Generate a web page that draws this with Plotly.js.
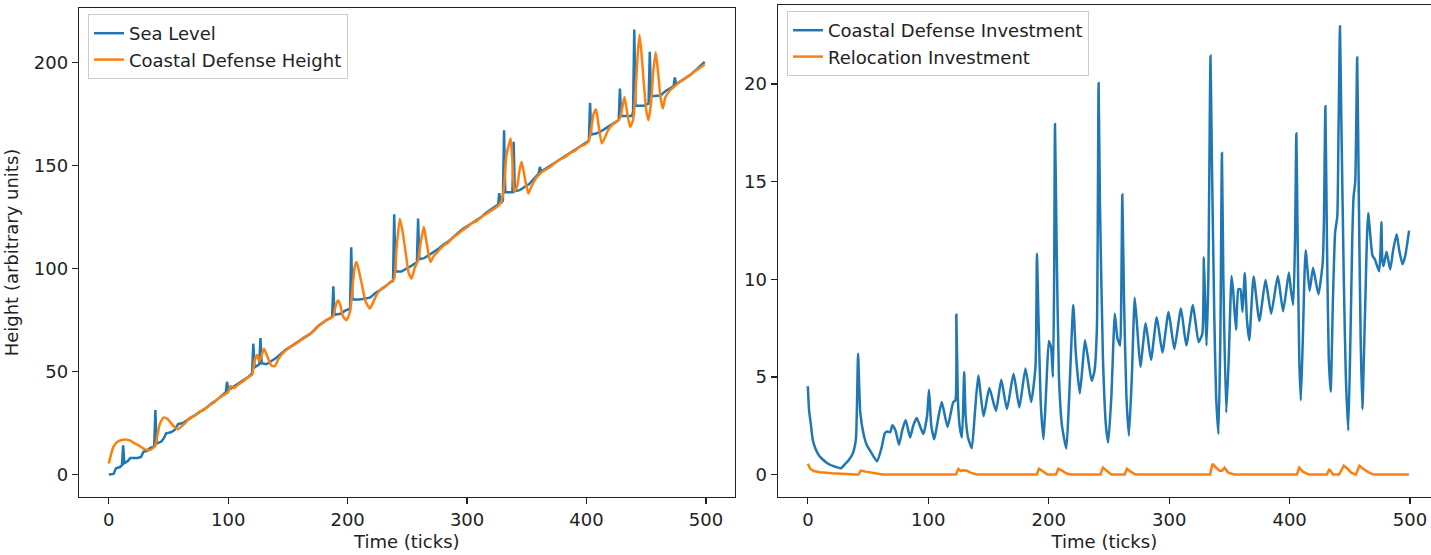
<!DOCTYPE html>
<html>
<head>
<meta charset="utf-8">
<script src="https://cdn.plot.ly/plotly-3.0.1.min.js"></script>
<style>html,body{margin:0;padding:0;background:#fff}#chart{width:1431px;height:555px}</style>
</head>
<body>
<div id="chart"></div>
<script>
// ---- Left panel: heights ----
var seaLevelT = [0,4,6,9,11,12,13,16,18,24,27,29,32,35,38,39,40,44,46,48,52,55,58,62,66,70,74,78,82,86,90,94,98,99,100,104,108,112,116,120,121,122,126,127,128,132,136,140,144,148,152,156,160,164,168,172,176,180,184,187,188,189,194,198,202,203,204,210,216,219,223,227,231,235,238,239,240,245,250,254,258,259,260,264,268,272,276,280,284,288,292,296,300,304,308,312,316,320,324,326,327,328,330,331,332,338,339,340,344,348,352,356,360,361,362,366,370,374,378,382,386,390,394,398,402,403,404,408,412,416,420,424,427,428,429,438,439,440,441,448,452,453,454,462,466,470,473,474,475,479,483,487,491,495,499];
var seaLevelV = [0,0.3,3,3.5,4.5,14.1,5.5,6.5,8,8,8.5,11,11.5,13,13.5,31.3,15,16,17.5,20,20.5,21.5,24.5,25,26.5,28,29.5,31,32.5,34.5,36,38,40,45,41,42.5,44,45.5,47,49,63.5,52,53.5,66.2,54,53.5,55,56.5,58.5,60.5,62,63.5,65,66.5,68,70,72.5,74,75.5,76.5,91.3,77.5,78,79.5,80.5,110.3,85,85,85.5,86,88,89.5,91,93,94,126.3,98.5,98.5,100,101.5,103,124.3,104.5,105,106.5,108,109.5,111.5,113,115,117,119,120.5,122,123.5,125,127,128.5,130,131,136.6,131.5,133,167.1,137,137,161.5,137.5,138,139.5,141,143.5,146,149.3,147,148.5,150,151.5,153,154.5,156,157.5,159,160.5,162,180.4,165,165.5,166.5,168,169.5,171,172,187.4,174,174,176,216,179,179,180,205.2,183.6,184,186,187.5,188.5,192.7,189.5,191,192.5,194,196,198,200.3];

var defenseT = [0,2,4,7,10,14,18,22,26,30,34,37,39,41,43,46,49,52,55,58,61,64,68,72,76,80,84,88,92,96,100,102,105,108,112,116,120,122,124,126,128,130,133,136,139,142,146,150,154,158,162,166,170,174,178,182,186,188,190,192,194,196,199,202,204,206,207.5,209,212,215,218.6,221,224,228,232,236,239,241,243.7,246,249,251,253.5,256,259,261,263.8,266,268,269.4,272,276,280,284,288,292,296,300,304,308,312,316,320,324,327,329,331,333,336.5,338,339.5,342,344,345.7,348,351.3,354,358,362,366,370,374,378,382,386,390,394,398,402,404,406,408,410,412.8,415,418,422,426,428,430,431.8,434,436.5,439,441,443,444.4,446,448,450,451.9,454,456,458,460,462,463.9,466,470,474,478,482,486,490,494,499];
var defenseV = [5.3,10,13.5,15.8,16.6,17,16.4,15,13.8,12.3,11.8,12.8,14,20,25,27.7,27,25,23,22,23.5,25,27.5,28.5,30.5,31.5,33.5,35,37,38.5,40,43,42,43.5,45,47,48.5,55,58,55,58,61,57,53,52.5,56,59,61,62.5,64,66,67.5,69,71.5,73,75,76,77,82,84.6,82,77,74.9,79,90,101,103.2,100,92,84,80.6,83,87,90,91.5,93.5,95,110,124.2,118,106,98,95.1,100,104,112,120.2,113,106,103.2,106,108.5,111,112.5,115,116.5,118.5,120,122,123,125,126.5,128,129.5,131,133,140,155,163.1,152,137.4,140,148,151.8,145,136.4,140,144,146.5,148,149.5,151.5,153,154,156,157,159,160,162,168,175,177.2,170,160.7,163,167,170,171.5,173,178,183.3,176,168.7,172,185,205,213.3,205,190,177,172,180,196,205,195,183,177.7,183,186.5,188.5,190.5,192,193.5,195.5,197,199];

// ---- Right panel: investments ----
var coastalInvT = [0,1,2.6,4,6.2,9,11.7,17.2,22.7,27.5,31,33.7,37.3,39.9,41.7,43.5,46.5,49,51.9,57.4,61.1,64,66,68.4,70.2,72.8,75.7,78.5,81.2,84.9,87.5,90.4,95.8,99,100.6,102.5,105,108,111.2,116,120.7,122.5,123.3,124.5,126,128,129.8,131,133,136.1,138.5,141.5,145.9,150.7,156.2,160.6,165.3,170.8,175.6,180.7,185.4,189,190.2,191.5,193.5,195.7,198,200.1,202,203.5,204.5,205.2,206.5,208.5,211,214.6,217,220.4,222.5,225.8,228,230.1,233,235.6,238,240,241.4,242.5,245,247.5,249.4,252,254.9,257,259.3,260.2,261.1,262.5,264.5,266.6,269,271.4,273.5,276.1,280.5,284.9,289.7,294.4,299.5,304.3,309.8,314.2,319.7,324.4,327.5,328.8,330,331,332.5,334.3,335.5,337.5,339,340.9,342.5,343.8,345,347.4,349.5,351.8,353,355.5,357.5,359.1,360.9,362.8,364.5,366.5,370.1,374.9,380,384.7,390.2,394.6,399.4,401,403,404.5,405.6,406.5,408,409.3,411,413.3,416.6,419.5,423.9,427.5,428.5,429.7,431,432.5,434.1,436,437.8,439.6,440.5,441.8,443,445,446.7,448.7,450.5,452,453.1,454.5,456.1,457.5,459,460.4,462.5,465.2,468.8,470.7,474.3,475.5,476.2,477,478,480.5,483.5,486,488.9,491,493.7,496,499.2];
var coastalInvV = [4.52,3.3,2.53,1.8,1.35,1.0,0.81,0.54,0.40,0.32,0.55,0.72,1.08,1.81,6.19,3.2,2.0,1.5,1.2,0.68,1.35,2.13,2.2,2.17,2.53,2.26,1.53,2.3,2.8,1.9,2.5,2.89,2.08,3.0,4.34,2.5,1.81,2.8,3.71,2.44,3.71,3.8,8.18,4.0,2.5,1.9,5.25,3.0,1.9,1.35,3.0,5.07,2.98,4.43,3.26,4.85,3.35,5.16,3.44,5.43,3.71,5.5,11.31,8,3.5,1.81,4.5,6.84,6.5,5.0,10,17.96,12,5,2.5,1.33,4,8.69,6.2,4.15,5.5,6.88,5.8,4.8,5.3,7.5,20.06,14,6,2.5,1.63,4,8.24,7,6.61,9,14.34,9,4,1.99,5,9.05,7.5,5.52,7.75,5.88,8.06,6.25,8.33,6.43,8.51,6.61,8.69,6.79,7.2,11.13,8.5,6.61,10,21.45,16,8,4,2.08,7,16.47,10,3.17,6,10.17,9.5,7.42,9.5,9.5,8.33,10.32,8,6.88,10.14,7.87,9.96,8.24,10.17,8.36,10.35,9.5,8.69,12,17.47,13,6,3.8,7,11.49,9.41,10.59,9.23,10.86,13,18.86,12,6,4.25,9,12.40,13.22,17,22.96,18,10,5,2.26,7,12,14.21,15,21.36,14,7,3.35,8,13.40,11.22,11.04,10.41,11.5,12.94,11,10.68,11.41,10.50,11.5,12.31,11.5,10.77,11.2,12.49];

var relocationT = [0,2,5,10,20,30,40,42,44,48,55,62,123,125,127,129,132,135,140,190,192,195,199,206,208,211,215,218,243,245,248,252,263,265,268,272,334,336,339,342,344,346,349,354,406,408,411,416,431,433,436,441,445,448,451,454,455,458,461,466,470,499];
var relocationV = [0.55,0.3,0.18,0.12,0.07,0.02,0,0,0.2,0.15,0.08,0,0,0.28,0.18,0.22,0.2,0.1,0,0,0.3,0.15,0,0,0.3,0.2,0.05,0,0,0.35,0.2,0,0,0.3,0.15,0,0,0.55,0.35,0.2,0.2,0.35,0.1,0,0,0.35,0.15,0,0,0.28,0,0,0.45,0.3,0.1,0,0,0.45,0.3,0.1,0,0];

var xTicks = [0,100,200,300,400,500];
var leftYTicks = [0,50,100,150,200];
var rightYTicks = [0,5,10,15,20];

var BLUE = '#1f77b4', ORANGE = '#ff7f0e';
var FONT = {family: 'DejaVu Sans, sans-serif', size: 18, color: '#222'};

var traces = [
  {x: seaLevelT, y: seaLevelV, name: 'Sea Level', type: 'scatter', mode: 'lines',
   line: {color: BLUE, width: 2.5}, xaxis: 'x', yaxis: 'y', legend: 'legend'},
  {x: defenseT, y: defenseV, name: 'Coastal Defense Height', type: 'scatter', mode: 'lines',
   line: {color: ORANGE, width: 2.5, shape: 'spline', smoothing: 0.5}, xaxis: 'x', yaxis: 'y', legend: 'legend'},
  {x: coastalInvT, y: coastalInvV, name: 'Coastal Defense Investment', type: 'scatter', mode: 'lines',
   line: {color: BLUE, width: 2.5, shape: 'spline', smoothing: 0.5}, xaxis: 'x2', yaxis: 'y2', legend: 'legend2'},
  {x: relocationT, y: relocationV, name: 'Relocation Investment', type: 'scatter', mode: 'lines',
   line: {color: ORANGE, width: 2.5}, xaxis: 'x2', yaxis: 'y2', legend: 'legend2'}
];

function axisBase() {
  return {showgrid: false, zeroline: false, showline: true, linecolor: '#222', linewidth: 1.3,
          ticks: 'outside', ticklen: 6, tickwidth: 1.3, tickcolor: '#222',
          tickfont: FONT, automargin: false};
}

var xa = Object.assign(axisBase(), {domain: [79/1431, 734.5/1431], range: [-24.95, 523.95],
  tickvals: xTicks, ticktext: xTicks.map(String), mirror: true, anchor: 'y',
  title: {text: 'Time (ticks)', font: FONT, standoff: 6}});
var ya = Object.assign(axisBase(), {domain: [58.3/555, 546.7/555], range: [-10.78, 226.3],
  tickvals: leftYTicks, ticktext: leftYTicks.map(String), mirror: true, anchor: 'x',
  title: {text: 'Height (arbitrary units)', font: FONT, standoff: 10}});
var xa2 = Object.assign(axisBase(), {domain: [777.8/1431, 1], range: [-24.95, 517.4],
  tickvals: xTicks, ticktext: xTicks.map(String), mirror: true, anchor: 'y2',
  title: {text: 'Time (ticks)', font: FONT, standoff: 6}});
var ya2 = Object.assign(axisBase(), {domain: [58/555, 550/555], range: [-1.15, 24.05],
  tickvals: rightYTicks, ticktext: rightYTicks.map(String), mirror: false, anchor: 'x2'});

var legendStyle = {font: FONT, bgcolor: 'rgba(255,255,255,0.85)', bordercolor: '#cccccc',
                   borderwidth: 1, xanchor: 'left', yanchor: 'top', tracegroupgap: 0};

var layout = {
  width: 1431, height: 555,
  margin: {l: 0, r: 0, t: 0, b: 0},
  paper_bgcolor: '#ffffff', plot_bgcolor: '#ffffff',
  font: FONT,
  showlegend: true,
  xaxis: xa, yaxis: ya, xaxis2: xa2, yaxis2: ya2,
  legend: Object.assign({x: 88/1431, y: 1 - 14/555}, legendStyle),
  legend2: Object.assign({x: 787/1431, y: 1 - 11/555}, legendStyle)
};

Plotly.newPlot('chart', traces, layout, {displayModeBar: false, staticPlot: true});
</script>
</body>
</html>
